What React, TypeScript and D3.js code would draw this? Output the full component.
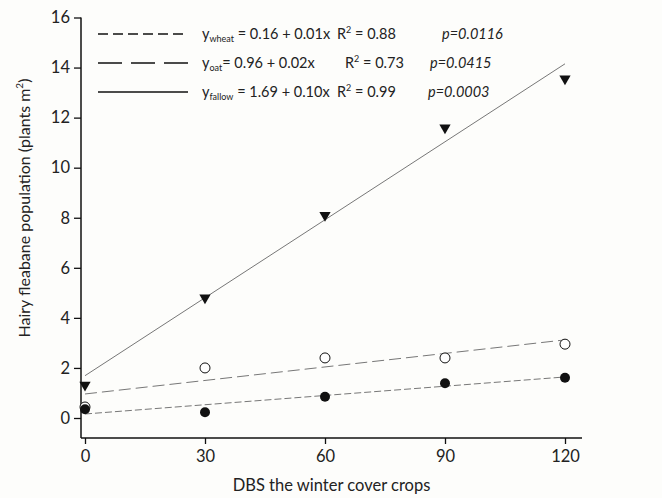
import React, { useEffect, useRef } from "react";
import * as d3 from "d3";

const days = [0, 30, 60, 90, 120];
const wheat = [0.35, 0.23, 0.85, 1.39, 1.61];
const oat = [0.44, 2.0, 2.4, 2.4, 2.95];
const fallow = [1.32, 4.8, 8.1, 11.6, 13.55];

// regression line ends (at 0 and 120 days)
const wheatFit = [0.16, 1.64];
const oatFit = [0.96, 3.12];
const fallowFit = [1.69, 14.15];

const yTicks = [0, 2, 4, 6, 8, 10, 12, 14, 16];
const xTicks = [0, 30, 60, 90, 120];

const legendRows = [
  { sub: "wheat", eq: " = 0.16 + 0.01x", r2: "0.88", p: "p=0.0116", dash: "10,5", rx: 337, px: 442 },
  { sub: "oat", eq: "= 0.96 + 0.02x", r2: "0.73", p: "p=0.0415", dash: "24,9", rx: 345, px: 430 },
  { sub: "fallow", eq: " = 1.69 + 0.10x", r2: "0.99", p: "p=0.0003", dash: null, rx: 337, px: 428 },
];

const W = 662;
const H = 498;
const FONT = "Lato, 'Open Sans', sans-serif";

export default function App() {
  const ref = useRef<SVGSVGElement | null>(null);

  useEffect(() => {
    const svg = d3.select(ref.current);
    svg.selectAll("*").remove();

    const x = d3.scaleLinear().domain([0, 120]).range([85, 565]);
    const y = d3.scaleLinear().domain([0, 16]).range([418, 17.5]);
    const axisX = 81;
    const axisY = 438;

    const g = svg.append("g");

    // y axis
    const yAxis = d3.axisLeft(y).tickValues(yTicks).tickSize(7).tickPadding(4);
    const ya = g.append("g").attr("transform", `translate(${axisX},0)`).call(yAxis);
    ya.select(".domain").remove();
    ya.selectAll("text").attr("font-family", FONT).attr("font-size", 16.5).attr("fill", "#222");
    ya.selectAll("line").attr("stroke", "#111").attr("stroke-width", 1.3);
    g.append("line")
      .attr("x1", axisX).attr("x2", axisX)
      .attr("y1", y(16)).attr("y2", axisY)
      .attr("stroke", "#111").attr("stroke-width", 1.5);

    // x axis
    const xAxis = d3.axisBottom(x).tickValues(xTicks).tickSize(6).tickPadding(6);
    const xa = g.append("g").attr("transform", `translate(0,${axisY})`).call(xAxis);
    xa.select(".domain").remove();
    xa.selectAll("text").attr("font-family", FONT).attr("font-size", 16.5).attr("fill", "#222");
    xa.selectAll("line").attr("stroke", "#111").attr("stroke-width", 1.3);
    g.append("line")
      .attr("x1", axisX).attr("x2", 582)
      .attr("y1", axisY).attr("y2", axisY)
      .attr("stroke", "#111").attr("stroke-width", 1.5);

    // regression lines
    const fits = [
      { v: wheatFit, dash: "7,3" },
      { v: oatFit, dash: "12,5" },
      { v: fallowFit, dash: null as string | null },
    ];
    fits.forEach((f) => {
      const l = g.append("line")
        .attr("x1", x(0)).attr("y1", y(f.v[0]))
        .attr("x2", x(120)).attr("y2", y(f.v[1]))
        .attr("stroke", "#777").attr("stroke-width", 1);
      if (f.dash) l.attr("stroke-dasharray", f.dash);
    });

    // points
    g.selectAll(".oat").data(days).enter().append("circle")
      .attr("cx", (d) => x(d)).attr("cy", (d, i) => y(oat[i])).attr("r", 5)
      .attr("fill", "#fff").attr("stroke", "#111").attr("stroke-width", 1);
    g.selectAll(".wheat").data(days).enter().append("circle")
      .attr("cx", (d) => x(d)).attr("cy", (d, i) => y(wheat[i])).attr("r", 5)
      .attr("fill", "#111");
    const tri = d3.symbol().type(d3.symbolTriangle).size(55);
    g.selectAll(".fallow").data(days).enter().append("path")
      .attr("d", tri)
      .attr("transform", (d, i) => `translate(${x(d)},${y(fallow[i])}) rotate(180)`)
      .attr("fill", "#111");

    // legend
    const rowY = [34, 63, 92];
    legendRows.forEach((r, i) => {
      const ly = rowY[i];
      const l = g.append("line")
        .attr("x1", 98).attr("x2", 188).attr("y1", ly).attr("y2", ly)
        .attr("stroke", "#111").attr("stroke-width", 1.3);
      if (r.dash) l.attr("stroke-dasharray", r.dash);
      const t = g.append("text").attr("x", 202).attr("y", ly + 5)
        .attr("font-family", FONT).attr("font-size", 14.5).attr("fill", "#222");
      t.append("tspan").text("y");
      t.append("tspan").attr("font-size", 9).attr("dy", 3).text(r.sub);
      t.append("tspan").attr("dy", -3).text(r.eq);
      const t2 = g.append("text").attr("x", r.rx).attr("y", ly + 5)
        .attr("font-family", FONT).attr("font-size", 14.5).attr("fill", "#222");
      t2.append("tspan").text("R");
      t2.append("tspan").attr("font-size", 9).attr("dy", -6).text("2");
      t2.append("tspan").attr("dy", 6).text(" = " + r.r2);
      g.append("text").attr("x", r.px).attr("y", ly + 5)
        .attr("font-family", FONT).attr("font-size", 14.5).attr("font-style", "italic")
        .attr("fill", "#222").text(r.p);
    });

    // axis titles
    g.append("text")
      .attr("x", (axisX + 582) / 2).attr("y", 491)
      .attr("text-anchor", "middle")
      .attr("font-family", FONT).attr("font-size", 16.5).attr("fill", "#222")
      .text("DBS the winter cover crops");
    const yt = g.append("text")
      .attr("transform", "translate(30,208) rotate(-90)")
      .attr("text-anchor", "middle")
      .attr("font-family", FONT).attr("font-size", 16).attr("fill", "#222");
    yt.append("tspan").text("Hairy fleabane population  (plants m");
    yt.append("tspan").attr("font-size", 10).attr("dy", -7).text("2");
    yt.append("tspan").attr("dy", 7).text(")");
  }, []);

  return (
    <div>
      <style>{`body{margin:0;background:#fdfdfb}`}</style>
      <svg ref={ref} width={W} height={H} style={{ display: "block", background: "#fdfdfb" }} />
    </div>
  );
}
